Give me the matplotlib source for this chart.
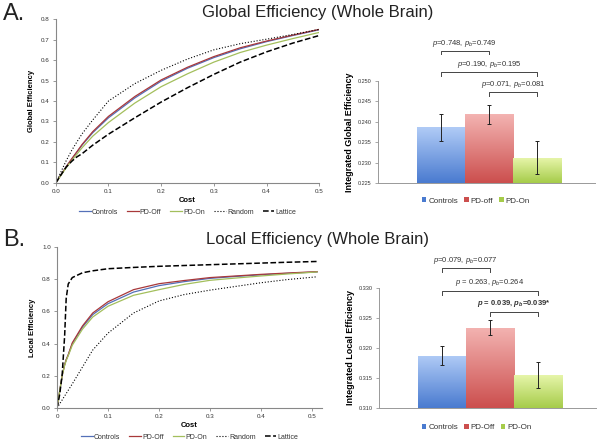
import matplotlib
matplotlib.use('agg')
import matplotlib.pyplot as plt
import numpy as np
from matplotlib.colors import LinearSegmentedColormap

plt.rcParams['font.family'] = ['Liberation Sans', 'DejaVu Sans']
plt.rcParams['mathtext.fontset'] = 'custom'
plt.rcParams['mathtext.it'] = 'Liberation Sans:italic'
plt.rcParams['mathtext.rm'] = 'Liberation Sans'
plt.rcParams['mathtext.bf'] = 'Liberation Sans:bold'
plt.rcParams['mathtext.bfit'] = 'Liberation Sans:bold:italic'

# ---- data ----
cost_g = [0, 0.01, 0.02, 0.03, 0.04, 0.05, 0.07, 0.1, 0.15, 0.2, 0.25, 0.3, 0.35, 0.4, 0.45, 0.5]
glob_controls = [0, 0.04, 0.08, 0.115, 0.15, 0.185, 0.245, 0.318, 0.415, 0.497, 0.56, 0.612, 0.655, 0.69, 0.72, 0.748]
glob_pdoff = [0, 0.04, 0.08, 0.117, 0.152, 0.188, 0.25, 0.325, 0.422, 0.503, 0.565, 0.617, 0.66, 0.693, 0.722, 0.75]
glob_pdon = [0, 0.038, 0.075, 0.108, 0.14, 0.172, 0.228, 0.295, 0.39, 0.47, 0.533, 0.59, 0.637, 0.673, 0.705, 0.735]
glob_random = [0, 0.055, 0.11, 0.158, 0.2, 0.24, 0.307, 0.4, 0.485, 0.55, 0.605, 0.65, 0.68, 0.702, 0.725, 0.75]
glob_lattice = [0, 0.04, 0.078, 0.105, 0.127, 0.143, 0.184, 0.238, 0.318, 0.395, 0.465, 0.53, 0.59, 0.64, 0.683, 0.72]

cost_l = [0, 0.005, 0.01, 0.015, 0.018, 0.022, 0.03, 0.05, 0.07, 0.1, 0.15, 0.2, 0.25, 0.3, 0.35, 0.4, 0.45, 0.51]
loc_controls = [0, 0.1, 0.2, 0.27, 0.3, 0.33, 0.4, 0.503, 0.58, 0.648, 0.72, 0.76, 0.785, 0.805, 0.817, 0.827, 0.836, 0.845]
loc_pdoff = [0, 0.1, 0.2, 0.27, 0.3, 0.33, 0.405, 0.51, 0.59, 0.66, 0.735, 0.772, 0.792, 0.81, 0.82, 0.83, 0.838, 0.847]
loc_pdon = [0, 0.1, 0.2, 0.265, 0.295, 0.325, 0.39, 0.49, 0.565, 0.632, 0.7, 0.735, 0.768, 0.793, 0.807, 0.82, 0.832, 0.845]
loc_random = [0, 0.025, 0.05, 0.075, 0.09, 0.11, 0.15, 0.255, 0.36, 0.465, 0.59, 0.665, 0.705, 0.732, 0.755, 0.778, 0.797, 0.815]
loc_lattice = [0, 0.08, 0.2, 0.45, 0.68, 0.77, 0.81, 0.84, 0.852, 0.865, 0.873, 0.88, 0.885, 0.89, 0.895, 0.9, 0.905, 0.91]

groups = ["Controls", "PD-off", "PD-On"]
groups_b = ["Controls", "PD-Off", "PD-On"]
int_global = [0.2387, 0.2418, 0.2312]
int_global_err = [0.0033, 0.0024, 0.0040]
int_local = [0.3187, 0.3234, 0.3155]
int_local_err = [0.0016, 0.0012, 0.0021]

line_labels = ["Controls", "PD-Off", "PD-On", "Random", "Lattice"]
line_colors = ["#5470b8", "#a8383a", "#a3bf5c", "black", "black"]
line_styles = ["-", "-", "-", ":", "--"]
line_widths = [0.9, 0.9, 0.9, 0.8, 1.1]

bar_tops = ["#b0cbf6", "#f3b3b1", "#e8f6ac"]
bar_bots = ["#4a7bd0", "#cc4f4e", "#a6cc4a"]

fig = plt.figure(figsize=(6, 4.45), dpi=100)


def line_panel(rect, cost, series, ylabel, ylim, yticks, xticks, xticklabels, xlim):
    ax = fig.add_axes(rect)
    for vals, c, ls, lw, lab in zip(series, line_colors, line_styles, line_widths, line_labels):
        ax.plot(cost, vals, color=c, ls=ls, lw=lw, label=lab)
    ax.set_xlim(*xlim)
    ax.set_ylim(*ylim)
    ax.set_yticks(yticks)
    ax.set_yticklabels(["%.1f" % v for v in yticks])
    ax.set_xticks(xticks)
    ax.set_xticklabels(xticklabels)
    for s in ["top", "right"]:
        ax.spines[s].set_visible(False)
    for s in ["left", "bottom"]:
        ax.spines[s].set_color("#888888")
        ax.spines[s].set_linewidth(0.8)
    ax.tick_params(labelsize=4.5, length=2.5, width=0.6, color="#888888", labelcolor="#333333", pad=2)
    ax.set_xlabel("Cost", fontsize=5.5, fontweight="bold", labelpad=2)
    ax.set_ylabel(ylabel, fontsize=5.5, fontweight="bold", labelpad=4)
    ax.legend(loc="upper center", bbox_to_anchor=(0.5, -0.12), ncol=5, frameon=False,
              fontsize=5, handlelength=1.7, columnspacing=1.3, handletextpad=0.15,
              labelcolor="#333333")
    return ax


def bar_panel(rect, vals, errs, labels, ylabel, ylim, yticks, fmt):
    ax = fig.add_axes(rect)
    x = np.arange(len(vals))
    bars = ax.bar(x, np.array(vals) - ylim[0], width=1.0, bottom=ylim[0],
                  color=bar_bots, label=labels, zorder=1)
    for b, top, bot in zip(bars, bar_tops, bar_bots):
        cmap = LinearSegmentedColormap.from_list("g", [bot, top])
        grad = np.linspace(0, 1, 64).reshape(-1, 1)
        x0, y0 = b.get_x(), b.get_y()
        im = ax.imshow(grad, cmap=cmap, origin="lower", aspect="auto",
                       extent=(x0, x0 + b.get_width(), y0, y0 + b.get_height()), zorder=1.5)
        im.set_clip_path(b)
    ax.errorbar(x, vals, yerr=errs, fmt="none", ecolor="#222222", elinewidth=0.7,
                capsize=1.5, capthick=0.7, zorder=3)
    ax.set_xlim(-1.3, 3.2)
    ax.set_ylim(*ylim)
    ax.set_yticks(yticks)
    ax.set_yticklabels([fmt % v for v in yticks])
    ax.set_xticks([])
    for s in ["top", "right"]:
        ax.spines[s].set_visible(False)
    for s in ["left", "bottom"]:
        ax.spines[s].set_color("#999999")
        ax.spines[s].set_linewidth(0.7)
    ax.tick_params(labelsize=4, length=2.5, width=0.6, color="#999999", labelcolor="#333333", pad=2)
    ax.set_ylabel(ylabel, fontsize=6.5, fontweight="bold", labelpad=3)
    ax.legend(loc="upper center", bbox_to_anchor=(0.45, -0.07), ncol=3, frameon=False,
              fontsize=5.8, handlelength=0.6, handleheight=0.6, columnspacing=0.7,
              handletextpad=0.25, labelcolor="#333333")
    return ax


def bracket(ax, x0, x1, y, tick, text, bold=False):
    ax.plot([x0, x0, x1, x1], [y - tick, y, y, y - tick], color="#444444", lw=0.7,
            clip_on=False, zorder=4)
    ax.text((x0 + x1) / 2, y + tick * 0.6, text, ha="center", va="bottom", fontsize=5.5,
            color="#333333", fontweight="bold" if bold else "normal", clip_on=False)


# ---- A. global efficiency ----
axA = line_panel([0.093, 0.589, 0.439, 0.368], cost_g,
                 [glob_controls, glob_pdoff, glob_pdon, glob_random, glob_lattice],
                 "Global Efficiency", (0, 0.8), np.arange(0, 0.81, 0.1),
                 [0, 0.1, 0.2, 0.3, 0.4, 0.5], ["0.0", "0.1", "0.2", "0.3", "0.4", "0.5"], (0, 0.5))

axAb = bar_panel([0.63, 0.589, 0.362, 0.229], int_global, int_global_err, groups,
                 "Integrated Global Efficiency", (0.225, 0.250),
                 [0.225, 0.230, 0.235, 0.240, 0.245, 0.250], "%.3f")
bracket(axAb, 0, 1, 0.2574, 0.0009, r"$\it{p}$=0.748, $\it{p}_{\it{b}}$=0.749")
bracket(axAb, 0, 2, 0.2522, 0.0009, r"$\it{p}$=0.190, $\it{p}_{\it{b}}$=0.195")
bracket(axAb, 1, 2, 0.2473, 0.0009, r"$\it{p}$=0.071, $\it{p}_{\it{b}}$=$\it{0.081}$")

# ---- B. local efficiency ----
axB = line_panel([0.095, 0.083, 0.442, 0.362], cost_l,
                 [loc_controls, loc_pdoff, loc_pdon, loc_random, loc_lattice],
                 "Local Efficiency", (0, 1.0), np.arange(0, 1.01, 0.2),
                 [0, 0.1, 0.2, 0.3, 0.4, 0.5], ["0", "0.1", "0.2", "0.3", "0.4", "0.5"], (0, 0.52))

axBb = bar_panel([0.632, 0.083, 0.361, 0.27], int_local, int_local_err, groups_b,
                 "Integrated Local Efficiency", (0.310, 0.330),
                 [0.310, 0.315, 0.320, 0.325, 0.330], "%.3f")
bracket(axBb, 0, 1, 0.3333, 0.0007, r"$\it{p}$=0.079, $\it{p}_{\it{b}}$=0.077")
bracket(axBb, 0, 2, 0.3295, 0.0007, r"$\it{p}$ = 0.263, $\it{p}_{\it{b}}$=0.264")
bracket(axBb, 1, 2, 0.3260, 0.0007, r"$\mathbfit{p}$ = 0.039, $\mathbfit{p}_{\mathbfit{b}}$=0.039*", bold=True)

# titles and panel letters
fig.text(0.005, 0.968, "A.", fontsize=17, va="center", ha="left", color="#222222")
fig.text(0.005, 0.46, "B.", fontsize=17, va="center", ha="left", color="#222222")
fig.text(0.53, 0.972, "Global Efficiency (Whole Brain)", fontsize=12, va="center", ha="center", color="#222222")
fig.text(0.53, 0.462, "Local Efficiency (Whole Brain)", fontsize=12, va="center", ha="center", color="#222222")

fig.savefig("out.png", dpi=100)
